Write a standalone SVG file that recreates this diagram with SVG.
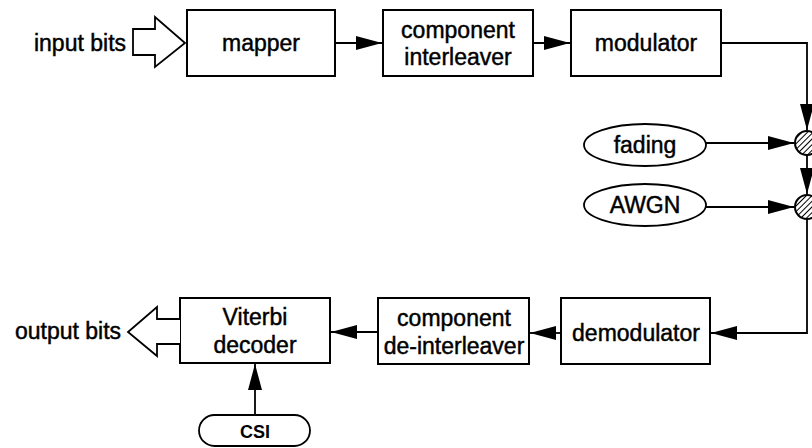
<svg xmlns="http://www.w3.org/2000/svg" width="812" height="448" viewBox="0 0 812 448">
<style>
.box{fill:#fff;stroke:#000;stroke-width:2}
.ell{fill:#fff;stroke:#000;stroke-width:1.8}
.t{font-family:"Liberation Sans",Arial,sans-serif;font-size:23px;fill:#000;stroke:#000;stroke-width:0.45;text-anchor:middle}
.sm{font-size:18px;font-weight:bold;stroke-width:0}
.ln{fill:none;stroke:#000;stroke-width:1.8}
.hollow{fill:#fff;stroke:#000;stroke-width:1.8;stroke-linejoin:miter}
.sum{fill:url(#hatch);stroke:#000;stroke-width:2}
</style>
<defs>
<marker id="ah" markerUnits="userSpaceOnUse" markerWidth="26" markerHeight="14" refX="26" refY="7" orient="auto">
<path d="M0,0 L26,7 L0,14 z" fill="#000"/>
</marker>
<pattern id="hatch" patternUnits="userSpaceOnUse" width="4" height="4" patternTransform="rotate(45)">
<rect width="4" height="4" fill="#fff"/>
<line x1="0" y1="0" x2="0" y2="4" stroke="#000" stroke-width="2"/>
</pattern>
</defs>

<g id="connectors">
<path class="ln" d="M335,43 H382" marker-end="url(#ah)"/>
<path class="ln" d="M533,43 H570" marker-end="url(#ah)"/>
<path class="ln" d="M721,43 H807 V130" marker-end="url(#ah)"/>
<path class="ln" d="M706,143 H794" marker-end="url(#ah)"/>
<path class="ln" d="M807,155 V194" marker-end="url(#ah)"/>
<path class="ln" d="M706,207 H794" marker-end="url(#ah)"/>
<path class="ln" d="M807,219 V333 H711" marker-end="url(#ah)"/>
<path class="ln" d="M561,333 H530" marker-end="url(#ah)"/>
<path class="ln" d="M378,332 H331" marker-end="url(#ah)"/>
<path class="ln" d="M255,415 V364" marker-end="url(#ah)"/>
</g>

<g id="input">
<text class="t" x="80" y="51">input bits</text>
<polygon class="hollow" points="133,29 155,29 155,17 185,43 155,67 155,55 133,55"/>
</g>

<g id="mapper">
<rect class="box" x="187" y="10" width="148" height="66"/>
<text class="t" x="261" y="51">mapper</text>
</g>

<g id="interleaver">
<rect class="box" x="383" y="10" width="150" height="66"/>
<text class="t" x="458" y="38">component</text>
<text class="t" x="458" y="65">interleaver</text>
</g>

<g id="modulator">
<rect class="box" x="571" y="10" width="150" height="66"/>
<text class="t" x="646" y="51">modulator</text>
</g>

<g id="fading">
<ellipse class="ell" cx="645" cy="145" rx="61" ry="21"/>
<text class="t" x="645" y="153">fading</text>
</g>

<g id="awgn">
<ellipse class="ell" cx="645" cy="205" rx="61" ry="21"/>
<text class="t" x="645" y="213">AWGN</text>
</g>

<g id="mult">
<circle class="sum" cx="807" cy="143" r="12"/>
</g>

<g id="add">
<circle class="sum" cx="807" cy="207" r="12"/>
</g>

<g id="demodulator">
<rect class="box" x="561" y="298" width="149" height="66"/>
<text class="t" x="636" y="341">demodulator</text>
</g>

<g id="deinterleaver">
<rect class="box" x="378" y="298" width="151" height="66"/>
<text class="t" x="454" y="326">component</text>
<text class="t" x="454" y="354">de-interleaver</text>
</g>

<g id="viterbi">
<rect class="box" x="180" y="298" width="150" height="65"/>
<text class="t" x="255" y="325">Viterbi</text>
<text class="t" x="255" y="353">decoder</text>
</g>

<g id="output">
<text class="t" x="68" y="339">output bits</text>
<polyline class="hollow" points="180,319 157,319 157,307 128,332 157,356 157,344 180,344"/>
</g>

<g id="csi">
<rect class="ell" x="199" y="415" width="111" height="31" rx="15.5"/>
<text class="t sm" x="255" y="438">CSI</text>
</g>
</svg>
